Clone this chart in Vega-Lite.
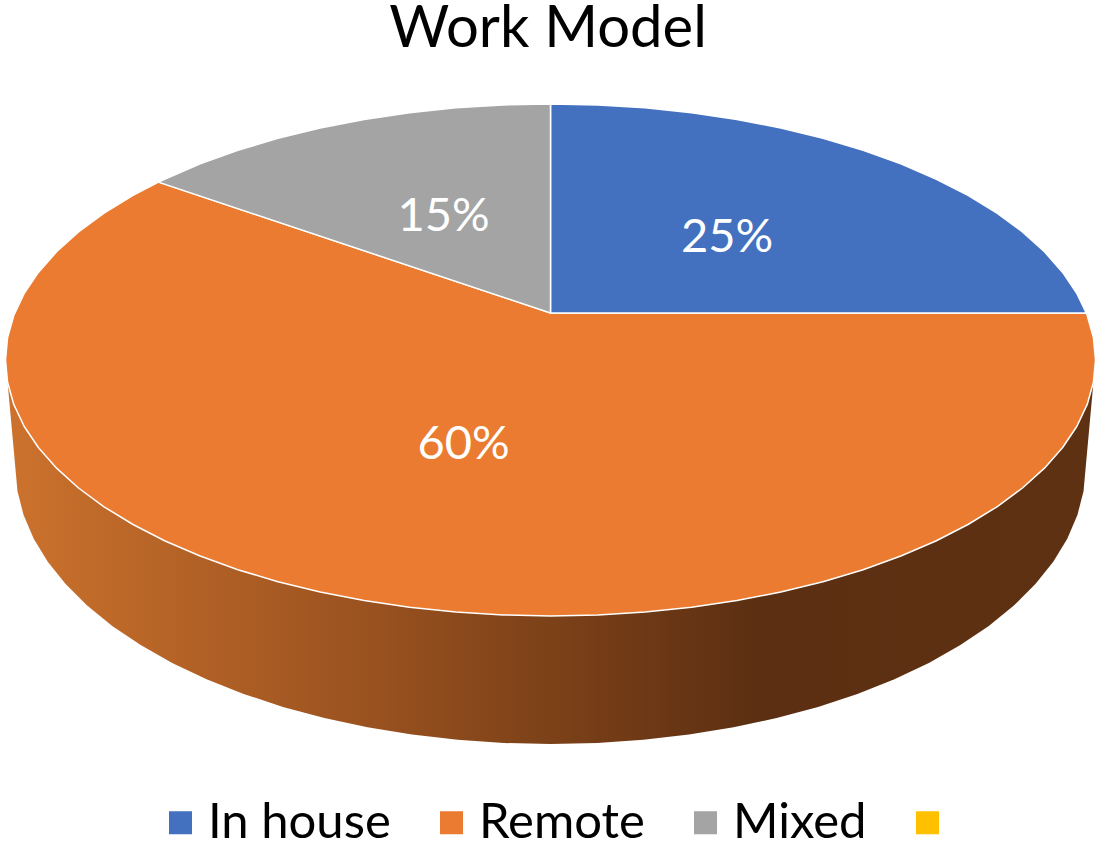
{"$schema":"https://vega.github.io/schema/vega-lite/v6.json","width":1096,"height":843,"padding":0,"autosize":"none","background":"white","view":{"stroke":null},
"title":{"text":"Work Model","anchor":"middle","offset":-59,"font":"Lato","fontSize":58,"fontWeight":"normal","color":"#000000"},
"datasets":{
"wall":[{"i":0,"x":0.9962,"y":-0.1272},{"i":1,"x":0.978,"y":-0.3269},{"i":2,"x":0.9668,"y":-0.3708},{"i":3,"x":0.9482,"y":-0.4142},{"i":4,"x":0.9225,"y":-0.4564},{"i":5,"x":0.8897,"y":-0.4974},{"i":6,"x":0.8502,"y":-0.5368},{"i":7,"x":0.8042,"y":-0.5742},{"i":8,"x":0.752,"y":-0.6093},{"i":9,"x":0.6942,"y":-0.642},{"i":10,"x":0.631,"y":-0.672},{"i":11,"x":0.5631,"y":-0.699},{"i":12,"x":0.4909,"y":-0.7228},{"i":13,"x":0.4149,"y":-0.7433},{"i":14,"x":0.3358,"y":-0.7602},{"i":15,"x":0.2541,"y":-0.7736},{"i":16,"x":0.1704,"y":-0.7832},{"i":17,"x":0.0856,"y":-0.789},{"i":18,"x":0,"y":-0.7909},{"i":19,"x":-0.0856,"y":-0.789},{"i":20,"x":-0.1704,"y":-0.7832},{"i":21,"x":-0.2541,"y":-0.7736},{"i":22,"x":-0.3358,"y":-0.7602},{"i":23,"x":-0.4149,"y":-0.7433},{"i":24,"x":-0.4909,"y":-0.7228},{"i":25,"x":-0.5631,"y":-0.699},{"i":26,"x":-0.631,"y":-0.672},{"i":27,"x":-0.6942,"y":-0.642},{"i":28,"x":-0.752,"y":-0.6093},{"i":29,"x":-0.8042,"y":-0.5742},{"i":30,"x":-0.8502,"y":-0.5368},{"i":31,"x":-0.8897,"y":-0.4974},{"i":32,"x":-0.9225,"y":-0.4564},{"i":33,"x":-0.9482,"y":-0.4142},{"i":34,"x":-0.9668,"y":-0.3708},{"i":35,"x":-0.978,"y":-0.3269},{"i":36,"x":-0.9962,"y":-0.1272}],
"faces":[
{"k":"Remote","i":0,"x":0,"y":0},{"k":"Remote","i":1,"x":0.983,"y":0},{"k":"Remote","i":2,"x":0.9848,"y":-0.0046},{"k":"Remote","i":3,"x":0.9962,"y":-0.0452},{"k":"Remote","i":4,"x":1,"y":-0.0862},{"k":"Remote","i":5,"x":0.9962,"y":-0.1272},{"k":"Remote","i":6,"x":0.9848,"y":-0.1678},{"k":"Remote","i":7,"x":0.9659,"y":-0.2078},{"k":"Remote","i":8,"x":0.9397,"y":-0.2468},{"k":"Remote","i":9,"x":0.9063,"y":-0.2847},{"k":"Remote","i":10,"x":0.866,"y":-0.3211},{"k":"Remote","i":11,"x":0.8192,"y":-0.3556},{"k":"Remote","i":12,"x":0.766,"y":-0.3881},{"k":"Remote","i":13,"x":0.7071,"y":-0.4183},{"k":"Remote","i":14,"x":0.6428,"y":-0.446},{"k":"Remote","i":15,"x":0.5736,"y":-0.471},{"k":"Remote","i":16,"x":0.5,"y":-0.493},{"k":"Remote","i":17,"x":0.4226,"y":-0.5119},{"k":"Remote","i":18,"x":0.342,"y":-0.5276},{"k":"Remote","i":19,"x":0.2588,"y":-0.5399},{"k":"Remote","i":20,"x":0.1736,"y":-0.5488},{"k":"Remote","i":21,"x":0.0872,"y":-0.5541},{"k":"Remote","i":22,"x":0,"y":-0.5559},{"k":"Remote","i":23,"x":-0.0872,"y":-0.5541},{"k":"Remote","i":24,"x":-0.1736,"y":-0.5488},{"k":"Remote","i":25,"x":-0.2588,"y":-0.5399},{"k":"Remote","i":26,"x":-0.342,"y":-0.5276},{"k":"Remote","i":27,"x":-0.4226,"y":-0.5119},{"k":"Remote","i":28,"x":-0.5,"y":-0.493},{"k":"Remote","i":29,"x":-0.5736,"y":-0.471},{"k":"Remote","i":30,"x":-0.6428,"y":-0.446},{"k":"Remote","i":31,"x":-0.7071,"y":-0.4183},{"k":"Remote","i":32,"x":-0.766,"y":-0.3881},{"k":"Remote","i":33,"x":-0.8192,"y":-0.3556},{"k":"Remote","i":34,"x":-0.866,"y":-0.3211},{"k":"Remote","i":35,"x":-0.9063,"y":-0.2847},{"k":"Remote","i":36,"x":-0.9397,"y":-0.2468},{"k":"Remote","i":37,"x":-0.9659,"y":-0.2078},{"k":"Remote","i":38,"x":-0.9848,"y":-0.1678},{"k":"Remote","i":39,"x":-0.9962,"y":-0.1272},{"k":"Remote","i":40,"x":-1,"y":-0.0862},{"k":"Remote","i":41,"x":-0.9962,"y":-0.0452},{"k":"Remote","i":42,"x":-0.9848,"y":-0.0046},{"k":"Remote","i":43,"x":-0.9659,"y":0.0354},{"k":"Remote","i":44,"x":-0.9397,"y":0.0744},{"k":"Remote","i":45,"x":-0.9063,"y":0.1123},{"k":"Remote","i":46,"x":-0.866,"y":0.1487},{"k":"Remote","i":47,"x":-0.8192,"y":0.1832},{"k":"Remote","i":48,"x":-0.766,"y":0.2157},{"k":"Remote","i":49,"x":-0.7193,"y":0.2401},{"k":"Remote","i":50,"x":0,"y":0},
{"k":"In house","i":0,"x":0,"y":0},{"k":"In house","i":1,"x":0,"y":0.3835},{"k":"In house","i":2,"x":0.0872,"y":0.3817},{"k":"In house","i":3,"x":0.1736,"y":0.3764},{"k":"In house","i":4,"x":0.2588,"y":0.3675},{"k":"In house","i":5,"x":0.342,"y":0.3552},{"k":"In house","i":6,"x":0.4226,"y":0.3395},{"k":"In house","i":7,"x":0.5,"y":0.3206},{"k":"In house","i":8,"x":0.5736,"y":0.2986},{"k":"In house","i":9,"x":0.6428,"y":0.2736},{"k":"In house","i":10,"x":0.7071,"y":0.2459},{"k":"In house","i":11,"x":0.766,"y":0.2157},{"k":"In house","i":12,"x":0.8192,"y":0.1832},{"k":"In house","i":13,"x":0.866,"y":0.1487},{"k":"In house","i":14,"x":0.9063,"y":0.1123},{"k":"In house","i":15,"x":0.9397,"y":0.0744},{"k":"In house","i":16,"x":0.9659,"y":0.0354},{"k":"In house","i":17,"x":0.983,"y":0},{"k":"In house","i":18,"x":0,"y":0},
{"k":"Mixed","i":0,"x":0,"y":0},{"k":"Mixed","i":1,"x":-0.7193,"y":0.2401},{"k":"Mixed","i":2,"x":-0.7071,"y":0.2459},{"k":"Mixed","i":3,"x":-0.6428,"y":0.2736},{"k":"Mixed","i":4,"x":-0.5736,"y":0.2986},{"k":"Mixed","i":5,"x":-0.5,"y":0.3206},{"k":"Mixed","i":6,"x":-0.4226,"y":0.3395},{"k":"Mixed","i":7,"x":-0.342,"y":0.3552},{"k":"Mixed","i":8,"x":-0.2588,"y":0.3675},{"k":"Mixed","i":9,"x":-0.1736,"y":0.3764},{"k":"Mixed","i":10,"x":-0.0872,"y":0.3817},{"k":"Mixed","i":11,"x":0,"y":0.3835},{"k":"Mixed","i":12,"x":0,"y":0}],
"labels":[{"share":"25%","x":0.3239,"y":0.1376},{"share":"15%","x":-0.1963,"y":0.1762},{"share":"60%","x":-0.1596,"y":-0.2422}]},
"encoding":{"x":{"field":"x","type":"quantitative","axis":null,"scale":{"domain":[-1.0101,1.0009],"nice":false,"zero":false}},"y":{"field":"y","type":"quantitative","axis":null,"scale":{"domain":[-0.9725,0.5743],"nice":false,"zero":false}}},
"layer":[
{"data":{"name":"wall"},"mark":{"type":"line","filled":true,"strokeWidth":0,"fill":{"gradient":"linear","x1":0,"y1":0,"x2":1,"y2":0,"stops":[{"offset":0,"color":"#CC722D"},{"offset":0.32,"color":"#9C5320"},{"offset":0.45,"color":"#85461A"},{"offset":0.69,"color":"#5C2F12"},{"offset":1,"color":"#5F3113"}]}},"encoding":{"order":{"field":"i","type":"quantitative"}}},
{"data":{"name":"faces"},"mark":{"type":"line","filled":true,"stroke":"#FFFFFF","strokeWidth":1.5,"strokeJoin":"round"},"encoding":{"order":{"field":"i","type":"quantitative"},"detail":{"field":"k"},"color":{"field":"k","type":"nominal","scale":{"domain":["In house","Remote","Mixed"," "],"range":["#4371C0","#EA7B31","#A4A4A4","#FFC000"]},"legend":{"title":null,"orient":"none","legendX":156,"legendY":798,"direction":"horizontal","columns":4,"columnPadding":36,"symbolType":"square","symbolSize":530,"symbolStrokeWidth":0,"symbolOpacity":1,"labelFont":"Lato","labelFontSize":49,"labelColor":"#000000","labelOffset":3,"labelLimit":400,"symbolStrokeColor":"transparent"}}}},
{"data":{"name":"labels"},"mark":{"type":"text","font":"Lato","fontSize":47,"color":"#FFFFFF","align":"center","baseline":"middle"},"encoding":{"text":{"field":"share"}}}
]}
